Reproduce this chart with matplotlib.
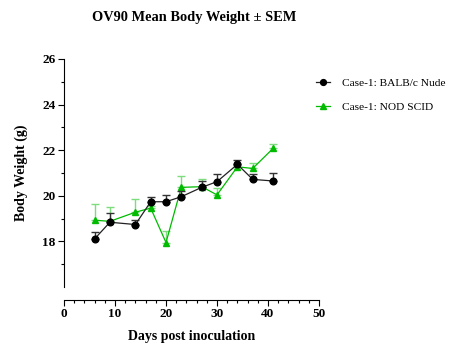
import matplotlib
matplotlib.use("Agg")
import matplotlib.pyplot as plt
import numpy as np
from matplotlib.ticker import MultipleLocator, FixedLocator
from matplotlib.lines import Line2D

days = [6, 9, 14, 17, 20, 23, 27, 30, 34, 37, 41]
balb_mean = [18.11, 18.84, 18.74, 19.74, 19.74, 19.96, 20.37, 20.62, 21.38, 20.72, 20.65]
balb_sem = [0.32, 0.40, 0.22, 0.22, 0.30, 0.25, 0.29, 0.33, 0.20, 0.25, 0.37]
nod_mean = [18.93, 18.88, 19.28, 19.46, 17.95, 20.37, 20.40, 20.04, 21.27, 21.20, 22.08]
nod_sem = [0.70, 0.62, 0.58, 0.10, 0.50, 0.50, 0.33, 0.30, 0.10, 0.23, 0.20]
labels = ["Case-1: BALB/c Nude", "Case-1: NOD SCID"]
title = "OV90 Mean Body Weight \u00b1 SEM"
xlabel = "Days post inoculation"
ylabel = "Body Weight (g)"

plt.rcParams['font.family'] = ['Liberation Serif', 'DejaVu Serif']

fig = plt.figure(figsize=(4.56, 3.57), dpi=100)
W, H = 456, 357
ax = fig.add_axes([64 / W, 1 - 287 / H, 255 / W, (287 - 59) / H])

green = '#00BB00'
ax.errorbar(days, nod_mean, yerr=[np.zeros(len(nod_sem)), nod_sem],
            color=green, ecolor='#7ddc7d', elinewidth=1.0, capsize=3, capthick=1.0,
            marker='^', markersize=4.8, linewidth=0.9, zorder=2)
ax.errorbar(days, balb_mean, yerr=[np.zeros(len(balb_sem)), balb_sem],
            color='#222222', mfc='black', mec='black', ecolor='#333333',
            elinewidth=1.0, capsize=3, capthick=1.0,
            marker='o', markersize=4.8, linewidth=0.9, zorder=3)

ax.set_xlim(0, 50)
ax.set_ylim(16, 26)
ax.spines['top'].set_visible(False)
ax.spines['right'].set_visible(False)
ax.spines['bottom'].set_position(('outward', 9))
for s in ('left', 'bottom'):
    ax.spines[s].set_linewidth(0.8)

ax.xaxis.set_major_locator(MultipleLocator(10))
ax.xaxis.set_minor_locator(MultipleLocator(2))
ax.yaxis.set_major_locator(FixedLocator([18, 20, 22, 24, 26]))
ax.yaxis.set_minor_locator(FixedLocator([17, 19, 21, 23, 25]))
ax.tick_params(which='major', length=4, width=0.8, labelsize=9.5, pad=2)
ax.tick_params(which='minor', length=2.5, width=0.8)
for lab in ax.get_xticklabels() + ax.get_yticklabels():
    lab.set_fontweight('bold')

ax.set_xlabel(xlabel, fontsize=10, fontweight='bold', labelpad=7)
ax.set_ylabel(ylabel, fontsize=10, fontweight='bold', labelpad=10)
fig.text(194 / W, 1 - 18 / H, title, fontsize=10.4, fontweight='bold', ha='center', va='center')

handles = [
    Line2D([], [], color='#222222', marker='o', markersize=4.2, mfc='black', mec='black', linewidth=0.9),
    Line2D([], [], color=green, marker='^', markersize=4.2, linewidth=0.9),
]
leg = fig.legend(handles, labels,
                 loc='upper left', bbox_to_anchor=(311 / W, 1 - 73 / H),
                 frameon=False, fontsize=8.2, handlelength=1.3, handletextpad=1.0,
                 labelspacing=1.3, borderaxespad=0)

fig.savefig('out.png', dpi=100)
